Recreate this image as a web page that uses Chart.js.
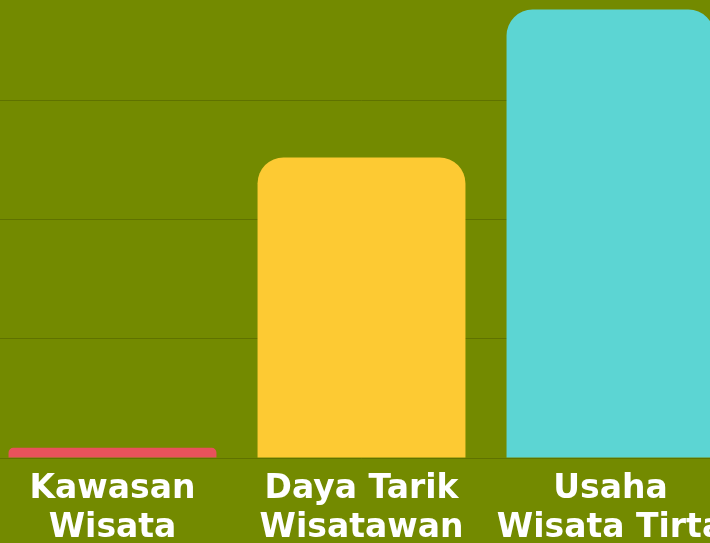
<!DOCTYPE html>
<html>
<head>
<meta charset="utf-8">
<script src="https://cdn.jsdelivr.net/npm/chart.js@4.4.0/dist/chart.umd.min.js"></script>
<style>
  html, body { margin: 0; padding: 0; width: 710px; height: 543px; overflow: hidden; background: #738a00; }
  #wrap { position: absolute; left: -12px; top: -19px; }
</style>
</head>
<body>
<div id="wrap"><canvas id="chart" width="747" height="562"></canvas></div>
<script>
// ===== Data =====
const categories = [["Kawasan", "Wisata"], ["Daya Tarik", "Wisatawan"], ["Usaha", "Wisata Tirta"]];
const values = [1.7, 50.4, 75.2];
const barColors = ['#e8525b', '#fdca33', '#5cd5d3'];
const yMax = 80;
const yStep = 20;

const ctx = document.getElementById('chart').getContext('2d');
new Chart(ctx, {
    type: 'bar',
    data: {
        labels: categories,
        datasets: [{
            data: values,
            backgroundColor: barColors,
            borderWidth: 0,
            borderRadius: 26,
            borderSkipped: 'bottom',
            categoryPercentage: 1,
            barPercentage: 0.835
        }]
    },
    options: {
        responsive: false,
        animation: false,
        layout: { padding: 0 },
        plugins: { legend: { display: false }, tooltip: { enabled: false } },
        scales: {
            x: {
                grid: { display: false },
                border: { display: false },
                afterFit: (scale) => { scale.height = 85; },
                ticks: {
                    color: '#ffffff',
                    font: { family: 'DejaVu Sans', size: 33, weight: 'bold', lineHeight: 1.18 },
                    padding: 4,
                    maxRotation: 0,
                    autoSkip: false
                }
            },
            y: {
                min: 0,
                max: yMax,
                ticks: { display: false, stepSize: yStep },
                grid: { color: '#5f7200', lineWidth: 1, drawTicks: false },
                border: { display: false }
            }
        }
    }
});
</script>
</body>
</html>
